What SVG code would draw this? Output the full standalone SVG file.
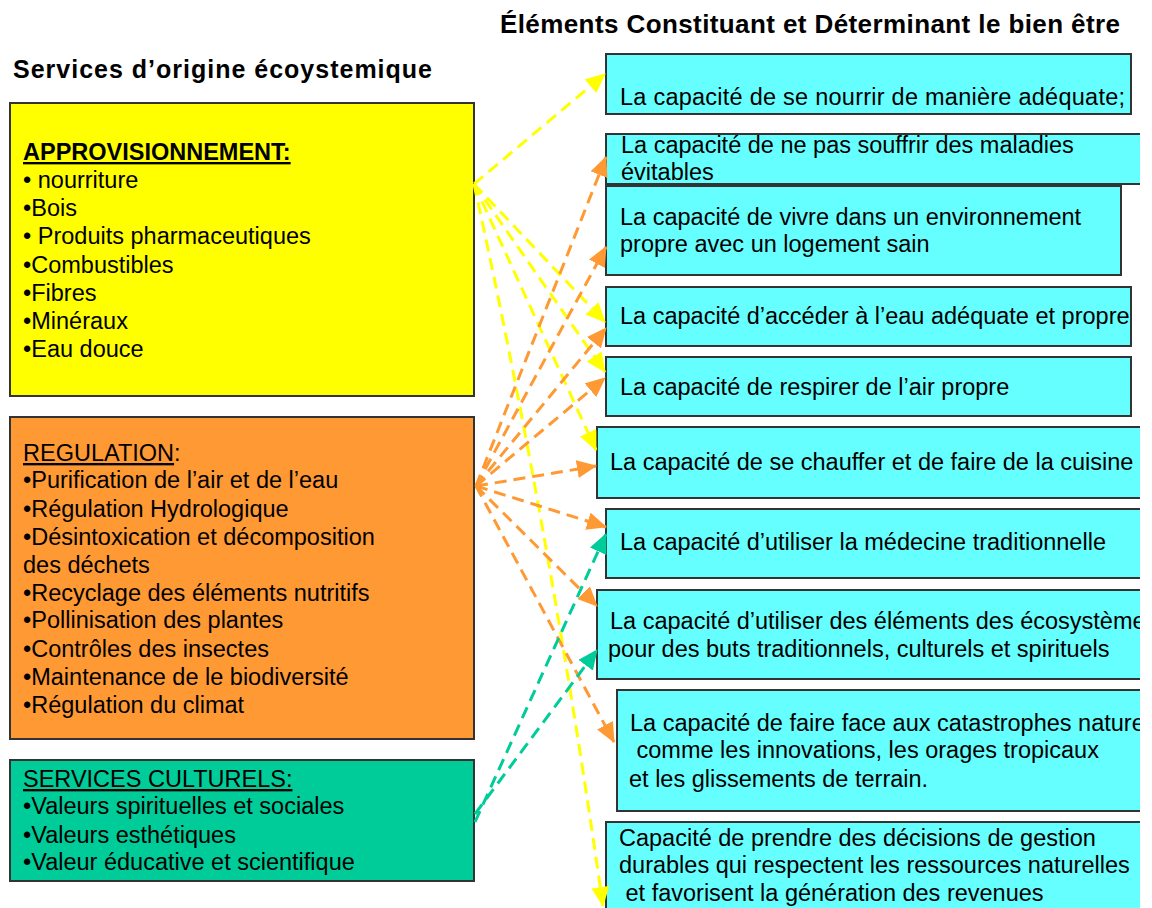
<svg xmlns="http://www.w3.org/2000/svg" width="1152" height="908" viewBox="0 0 1152 908">
<defs>
<style>
text{font-family:"Liberation Sans",Arial,sans-serif;font-size:23.5px;fill:#000}
.title{font-weight:bold;font-size:26px}
.src{stroke:#333;stroke-width:2}
.cap{fill:#66FFFF;stroke:#333;stroke-width:2}
.c{fill:none;stroke-width:3;stroke-dasharray:12 7}
.y{stroke:#FFFF00}
.o{stroke:#FF9933}
.g{stroke:#00CC99}
.u{text-decoration:underline}
</style>
<clipPath id="page"><rect x="0" y="0" width="1140" height="908"/></clipPath>
<marker id="ay" markerUnits="userSpaceOnUse" markerWidth="20" markerHeight="18" refX="19" refY="9" orient="auto"><path d="M0,0 L20,9 L0,18 z" fill="#FFFF00"/></marker>
<marker id="ao" markerUnits="userSpaceOnUse" markerWidth="20" markerHeight="18" refX="19" refY="9" orient="auto"><path d="M0,0 L20,9 L0,18 z" fill="#FF9933"/></marker>
<marker id="ag" markerUnits="userSpaceOnUse" markerWidth="20" markerHeight="18" refX="19" refY="9" orient="auto"><path d="M0,0 L20,9 L0,18 z" fill="#00CC99"/></marker>
</defs>
<rect x="0" y="0" width="1152" height="908" fill="#fff"/>

<g id="titles">
<text class="title" x="500" y="33" textLength="620">Éléments Constituant et Déterminant le bien être</text>
<text class="title" x="13" y="78" textLength="419" style="font-size:25px">Services d’origine écoystemique</text>
</g>

<g id="approvisionnement">
<rect class="src" x="10" y="103" width="464" height="293" fill="#FFFF00"/>
<text x="23" y="160" font-weight="bold" class="u">APPROVISIONNEMENT:</text>
<text x="23" y="188">• nourriture</text>
<text x="23" y="216">•Bois</text>
<text x="23" y="244">• Produits pharmaceutiques</text>
<text x="23" y="273">•Combustibles</text>
<text x="23" y="301">•Fibres</text>
<text x="23" y="329">•Minéraux</text>
<text x="23" y="357">•Eau douce</text>
</g>

<g id="regulation">
<rect class="src" x="10" y="417" width="464" height="322" fill="#FF9933"/>
<text x="23" y="461"><tspan class="u">REGULATION</tspan>:</text>
<text x="23" y="488">•Purification de l’air et de l’eau</text>
<text x="23" y="517">•Régulation Hydrologique</text>
<text x="23" y="545">•Désintoxication et décomposition</text>
<text x="23" y="573">des déchets</text>
<text x="23" y="601">•Recyclage des éléments nutritifs</text>
<text x="23" y="628">•Pollinisation des plantes</text>
<text x="23" y="657">•Contrôles des insectes</text>
<text x="23" y="685">•Maintenance de le biodiversité</text>
<text x="23" y="713">•Régulation du climat</text>
</g>

<g id="culturels">
<rect class="src" x="10" y="760" width="464" height="121" fill="#00CC99"/>
<text x="23" y="787" class="u">SERVICES CULTURELS:</text>
<text x="23" y="814">•Valeurs spirituelles et sociales</text>
<text x="23" y="843">•Valeurs esthétiques</text>
<text x="23" y="870">•Valeur éducative et scientifique</text>
</g>

<g id="b1">
<rect class="cap" x="606" y="54" width="525" height="60"/>
<text x="620" y="105" textLength="505">La capacité de se nourrir de manière adéquate;</text>
</g>
<g id="b2" clip-path="url(#page)">
<rect class="cap" x="606" y="134" width="545" height="50"/>
<text x="621" y="153">La capacité de ne pas souffrir des maladies</text>
<text x="621" y="180">évitables</text>
</g>
<g id="b3">
<rect class="cap" x="606" y="186" width="515" height="89"/>
<text x="620" y="225">La capacité de vivre dans un environnement</text>
<text x="620" y="252">propre avec un logement sain</text>
</g>
<g id="b4">
<rect class="cap" x="606" y="287" width="525" height="59"/>
<text x="620" y="324">La capacité d’accéder à l’eau adéquate et propre</text>
</g>
<g id="b5">
<rect class="cap" x="606" y="357" width="525" height="59"/>
<text x="620" y="395">La capacité de respirer de l’air propre</text>
</g>
<g id="b6" clip-path="url(#page)">
<rect class="cap" x="597" y="427" width="555" height="71"/>
<text x="610" y="470">La capacité de se chauffer et de faire de la cuisine</text>
</g>
<g id="b7" clip-path="url(#page)">
<rect class="cap" x="606" y="509" width="546" height="69"/>
<text x="620" y="550">La capacité d’utiliser la médecine traditionnelle</text>
</g>
<g id="b8" clip-path="url(#page)">
<rect class="cap" x="597" y="590" width="555" height="89"/>
<text x="610" y="629">La capacité d’utiliser des éléments des écosystème</text>
<text x="608" y="657">pour des buts traditionnels, culturels et spirituels</text>
</g>
<g id="b9" clip-path="url(#page)">
<rect class="cap" x="617" y="690" width="535" height="121"/>
<text x="630" y="731">La capacité de faire face aux catastrophes nature</text>
<text x="630" y="758" xml:space="preserve"> comme les innovations, les orages tropicaux</text>
<text x="629" y="787">et les glissements de terrain.</text>
</g>
<g id="b10" clip-path="url(#page)">
<rect class="cap" x="606" y="822" width="546" height="100"/>
<text x="619" y="846">Capacité de prendre des décisions de gestion</text>
<text x="619" y="873">durables qui respectent les ressources naturelles</text>
<text x="619" y="901" xml:space="preserve"> et favorisent la génération des revenues</text>
</g>

<g id="connectors">
<path class="c y" d="M474,184 L605,74" marker-end="url(#ay)"/>
<path class="c y" d="M474,184 L605,322" marker-end="url(#ay)"/>
<path class="c y" d="M474,184 L605,372" marker-end="url(#ay)"/>
<path class="c y" d="M474,184 L596,450" marker-end="url(#ay)"/>
<path class="c y" d="M474,184 Q548,520 603,906" marker-end="url(#ay)"/>
<path class="c o" d="M476,486 L606,157" marker-end="url(#ao)"/>
<path class="c o" d="M476,486 L606,247" marker-end="url(#ao)"/>
<path class="c o" d="M476,486 L606,328" marker-end="url(#ao)"/>
<path class="c o" d="M476,486 L605,378" marker-end="url(#ao)"/>
<path class="c o" d="M476,486 L596,466" marker-end="url(#ao)"/>
<path class="c o" d="M476,486 L606,527" marker-end="url(#ao)"/>
<path class="c o" d="M476,486 L597,606" marker-end="url(#ao)"/>
<path class="c o" d="M476,486 L614,742" marker-end="url(#ao)"/>
<path class="c g" d="M475,822 L606,534" marker-end="url(#ag)"/>
<path class="c g" d="M475,814 L597,650" marker-end="url(#ag)"/>
</g>
</svg>
